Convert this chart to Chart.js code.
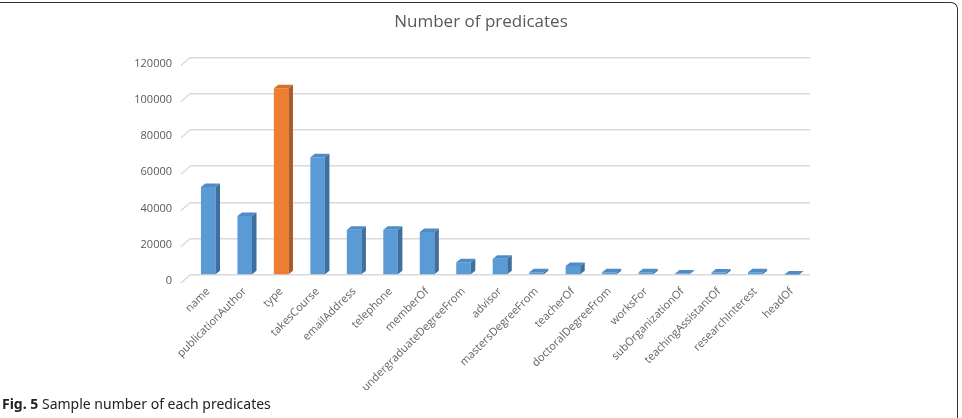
<!DOCTYPE html>
<html>
<head>
<meta charset="utf-8">
<script src="https://cdn.jsdelivr.net/npm/chart.js@4/dist/chart.umd.min.js"></script>
<style>
  html, body { margin: 0; padding: 0; background: #fff; }
  #wrap { position: relative; width: 962px; height: 418px; overflow: hidden; }
  #frame { position: absolute; left: -4px; top: 2px; width: 961px; height: 430px;
           border-top: 1.5px solid #333; border-right: 1.5px solid #333; border-top-right-radius: 7px; }
  #cv { position: absolute; left: 0; top: 0; }
  #caption { position: absolute; left: 2px; top: 394px; font-family: "Noto Sans", sans-serif;
             font-size: 14px; color: #222; white-space: nowrap; }
  #caption b { font-weight: 700; }
</style>
</head>
<body>
<div id="wrap">
  <canvas id="cv" width="962" height="390"></canvas>
  <div id="frame"></div>
  <div id="caption"><b>Fig. 5</b> Sample number of each predicates</div>
</div>
<script>
var predicates = ["name", "publicationAuthor", "type", "takesCourse", "emailAddress", "telephone",
  "memberOf", "undergraduateDegreeFrom", "advisor", "mastersDegreeFrom", "teacherOf",
  "doctoralDegreeFrom", "worksFor", "subOrganizationOf", "teachingAssistantOf",
  "researchInterest", "headOf"];
var counts = [48500, 32500, 103000, 65000, 25000, 25000, 23700, 7000, 9000, 1500, 5000,
  1500, 1500, 800, 1400, 1500, 300];
var yTicks = [0, 20000, 40000, 60000, 80000, 100000, 120000];

var blue = "#5b9bd5", blueSide = "#3d6f9f", blueTop = "#4f8bc6";
var orange = "#ed7d31", orangeSide = "#ae5a21", orangeTop = "#d86f28";
var highlight = 2; // "type"

// 3d look: side face, top cap and the little wall edges at the left
var depthPlugin = {
  id: "depth",
  beforeDatasetsDraw: function(chart) {
    var ctx = chart.ctx, area = chart.chartArea, ys = chart.scales.y;
    ctx.save();
    ctx.strokeStyle = "#d9d9d9";
    ctx.lineWidth = 1.3;
    yTicks.forEach(function(t) {
      var py = ys.getPixelForValue(t);
      ctx.beginPath();
      ctx.moveTo(area.left - 9, py + 8);
      ctx.lineTo(area.left, py);
      ctx.stroke();
    });
    ctx.restore();
  },
  afterDatasetsDraw: function(chart) {
    var ctx = chart.ctx;
    var dx = 4.5, dy = 3.5;
    chart.getDatasetMeta(0).data.forEach(function(bar, i) {
      var w = bar.width, l = bar.x - w / 2, r = bar.x + w / 2, top = bar.y, base = bar.base;
      var side = i === highlight ? orangeSide : blueSide;
      var cap = i === highlight ? orangeTop : blueTop;
      ctx.save();
      ctx.fillStyle = side;
      ctx.beginPath();
      ctx.moveTo(r, top);
      ctx.lineTo(r + dx, top - dy);
      ctx.lineTo(r + dx, base - dy);
      ctx.lineTo(r, base);
      ctx.closePath();
      ctx.fill();
      ctx.fillStyle = cap;
      ctx.beginPath();
      ctx.moveTo(l, top);
      ctx.lineTo(l + dx, top - dy);
      ctx.lineTo(r + dx, top - dy);
      ctx.lineTo(r, top);
      ctx.closePath();
      ctx.fill();
      ctx.restore();
    });
  }
};

new Chart(document.getElementById("cv"), {
  type: "bar",
  data: {
    labels: predicates,
    datasets: [{
      data: counts,
      backgroundColor: counts.map(function(v, i) { return i === highlight ? orange : blue; }),
      borderWidth: 0,
      barPercentage: 0.4,
      categoryPercentage: 1.0
    }]
  },
  options: {
    responsive: false,
    animation: false,
    layout: { padding: 0 },
    plugins: {
      legend: { display: false },
      tooltip: { enabled: false },
      title: {
        display: true,
        text: "Number of predicates",
        color: "#595959",
        font: { family: "Open Sans", size: 17, weight: "normal" },
        padding: { top: 12, bottom: 25 }
      }
    },
    scales: {
      x: {
        grid: { display: false },
        border: { display: false },
        ticks: {
          color: "#636363",
          font: { family: "Open Sans", size: 11 },
          minRotation: 45,
          maxRotation: 45,
          autoSkip: false,
          padding: 2
        },
        afterFit: function(s) { s.height = 115; }
      },
      y: {
        min: 0,
        max: 120000,
        ticks: {
          stepSize: 20000,
          color: "#595959",
          font: { family: "Open Sans", size: 11 },
          padding: 18,
          labelOffset: 6,
          callback: function(v) { return v; }
        },
        grid: { color: "#d9d9d9", lineWidth: 1.5, drawTicks: false },
        border: { display: false },
        afterFit: function(s) { s.width = 190; }
      },
      // empty right-hand space so the title stays centred on the page
      yRight: {
        position: "right",
        display: true,
        ticks: { display: false },
        grid: { display: false },
        border: { display: false },
        afterFit: function(s) { s.width = 152; }
      }
    }
  },
  plugins: [depthPlugin]
});
</script>
</body>
</html>
